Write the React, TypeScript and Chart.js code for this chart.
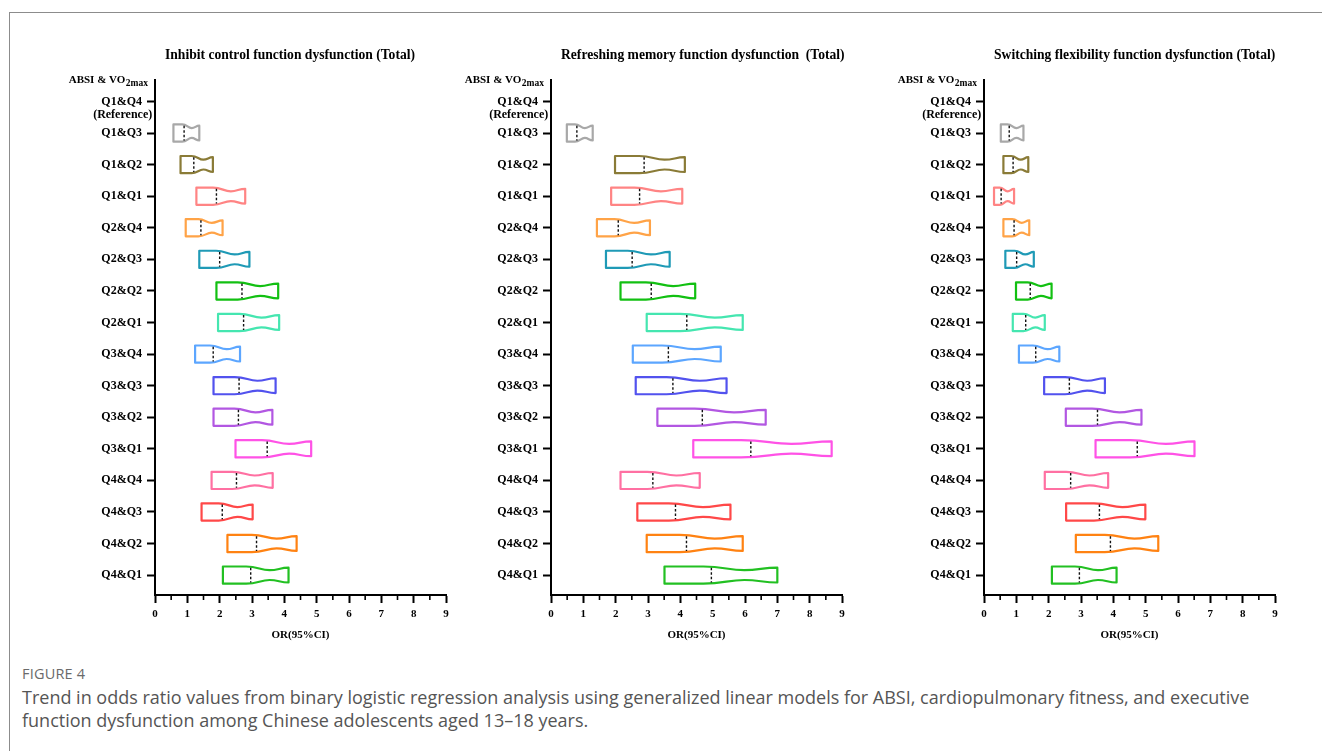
import React, { useEffect, useRef } from 'react';
import { Chart, registerables } from 'chart.js';

Chart.register(...registerables);

// ---------- DATA ----------
const categories = [
  'Q1&Q4', 'Q1&Q3', 'Q1&Q2', 'Q1&Q1',
  'Q2&Q4', 'Q2&Q3', 'Q2&Q2', 'Q2&Q1',
  'Q3&Q4', 'Q3&Q3', 'Q3&Q2', 'Q3&Q1',
  'Q4&Q4', 'Q4&Q3', 'Q4&Q2', 'Q4&Q1',
];
const referenceNote = '(Reference)';
const xTickValues = [0, 1, 2, 3, 4, 5, 6, 7, 8, 9];

const boxColors = [
  null, '#a8a8a8', '#8a7b37', '#ff8484',
  '#ffa347', '#1f9ab6', '#12c012', '#45e6b0',
  '#5ca6ff', '#5252ee', '#b257e2', '#ff52e6',
  '#ff70a2', '#ff4848', '#ff8212', '#22c022',
];

// Inhibit control function dysfunction (Total)
const inhibitLow = [null, 0.57, 0.79, 1.28, 0.95, 1.37, 1.90, 1.95, 1.24, 1.81, 1.81, 2.49, 1.75, 1.44, 2.24, 2.10];
const inhibitOR = [null, 0.90, 1.20, 1.90, 1.42, 2.00, 2.69, 2.74, 1.80, 2.60, 2.58, 3.47, 2.52, 2.08, 3.14, 2.96];
const inhibitHigh = [null, 1.37, 1.79, 2.79, 2.09, 2.92, 3.81, 3.84, 2.63, 3.73, 3.63, 4.83, 3.64, 3.02, 4.38, 4.13];

// Refreshing memory function dysfunction (Total)
const refreshLow = [null, 0.49, 1.98, 1.86, 1.42, 1.70, 2.15, 2.96, 2.53, 2.62, 3.29, 4.40, 2.15, 2.67, 2.96, 3.51];
const refreshOR = [null, 0.80, 2.88, 2.74, 2.08, 2.51, 3.10, 4.20, 3.63, 3.77, 4.68, 6.18, 3.15, 3.85, 4.19, 4.96];
const refreshHigh = [null, 1.29, 4.14, 4.06, 3.06, 3.67, 4.46, 5.93, 5.25, 5.43, 6.64, 8.68, 4.60, 5.55, 5.93, 7.00];

// Switching flexibility function dysfunction (Total)
const switchLow = [null, 0.52, 0.60, 0.31, 0.60, 0.66, 0.99, 0.89, 1.08, 1.86, 2.53, 3.45, 1.88, 2.54, 2.84, 2.10];
const switchOR = [null, 0.78, 0.90, 0.53, 0.93, 1.01, 1.43, 1.29, 1.60, 2.64, 3.51, 4.74, 2.68, 3.57, 3.91, 2.95];
const switchHigh = [null, 1.22, 1.37, 0.93, 1.40, 1.54, 2.09, 1.88, 2.33, 3.74, 4.87, 6.51, 3.84, 4.99, 5.39, 4.10];

const panelTitles = [
  'Inhibit control function dysfunction (Total)',
  'Refreshing memory function dysfunction  (Total)',
  'Switching flexibility function dysfunction (Total)',
];

const figureLabel = 'FIGURE 4';
const captionLine1 = 'Trend in odds ratio values from binary logistic regression analysis using generalized linear models for ABSI, cardiopulmonary fitness, and executive';
const captionLine2 = 'function dysfunction among Chinese adolescents aged 13\u201318 years.';

// ---------- DRAWING ----------
const SERIF = "'Liberation Serif', 'Times New Roman', serif";

function drawNotchedBox(ctx: CanvasRenderingContext2D, xl: number, xm: number, xr: number, yc: number, color: string) {
  const hl = 8.6, hn = 4.9, hr = 7.4;
  const xs = xm - 0.12 * (xr - xm);
  const xn = (xm + xr) / 2;
  ctx.save();
  ctx.strokeStyle = color;
  ctx.lineWidth = 2.2;
  ctx.lineJoin = 'round';
  ctx.beginPath();
  ctx.moveTo(xl, yc - hl);
  ctx.lineTo(xs, yc - hl);
  ctx.bezierCurveTo(xs + (xn - xs) * 0.5, yc - hl, xn - (xn - xs) * 0.4, yc - hn, xn, yc - hn);
  ctx.bezierCurveTo(xn + (xr - xn) * 0.45, yc - hn, xr - (xr - xn) * 0.45, yc - hr, xr, yc - hr);
  ctx.lineTo(xr, yc + hr);
  ctx.bezierCurveTo(xr - (xr - xn) * 0.45, yc + hr, xn + (xr - xn) * 0.45, yc + hn, xn, yc + hn);
  ctx.bezierCurveTo(xn - (xn - xs) * 0.4, yc + hn, xs + (xn - xs) * 0.5, yc + hl, xs, yc + hl);
  ctx.lineTo(xl, yc + hl);
  ctx.closePath();
  ctx.stroke();
  // median dashed line
  ctx.strokeStyle = '#111';
  ctx.lineWidth = 1.4;
  ctx.setLineDash([2.5, 2]);
  ctx.beginPath();
  ctx.moveTo(xm, yc - 7.4);
  ctx.lineTo(xm, yc + 7.4);
  ctx.stroke();
  ctx.restore();
}

const panelPlugin = {
  id: 'panelDecor',
  afterDatasetsDraw(chart: any) {
    const ctx = chart.ctx as CanvasRenderingContext2D;
    const xScale = chart.scales.x;
    const meta = chart.getDatasetMeta(0);
    const ds = chart.data.datasets[0];
    meta.data.forEach((el: any, j: number) => {
      const item = ds.data[j];
      const p = el.getProps(['x', 'y', 'base'], true);
      const xl = Math.min(p.x, p.base);
      const xr = Math.max(p.x, p.base);
      const xm = xScale.getPixelForValue(item.m);
      drawNotchedBox(ctx, xl, xm, xr, p.y, boxColors[item.y] as string);
    });
  },
  afterDraw(chart: any) {
    const ctx = chart.ctx as CanvasRenderingContext2D;
    const area = chart.chartArea;
    const xScale = chart.scales.x;
    const yScale = chart.scales.y;
    const opts = chart.options.plugins.panelDecor;
    ctx.save();
    // minor x ticks
    ctx.strokeStyle = '#000';
    ctx.lineWidth = 1.6;
    for (let k = 0; k < xTickValues.length - 1; k++) {
      const v = (xTickValues[k] + xTickValues[k + 1]) / 2;
      const px = xScale.getPixelForValue(v);
      ctx.beginPath();
      ctx.moveTo(px, area.bottom);
      ctx.lineTo(px, area.bottom + 5);
      ctx.stroke();
    }
    // title
    ctx.fillStyle = '#000';
    ctx.font = `bold 13.6px ${SERIF}`;
    ctx.textAlign = 'left';
    ctx.textBaseline = 'middle';
    ctx.fillText(opts.title, area.left + 10, 15);
    // header ABSI & VO2max
    ctx.textBaseline = 'alphabetic';
    ctx.textAlign = 'right';
    ctx.font = `bold 9.5px ${SERIF}`;
    const subX = area.left - 7;
    const subW = ctx.measureText('2max').width;
    ctx.fillText('2max', subX, area.top + 5.5);
    ctx.font = `bold 11px ${SERIF}`;
    ctx.fillText('ABSI & VO', subX - subW - 0.5, area.top + 3);
    // (Reference) under Q1&Q4, centred on that label
    ctx.font = `bold 12px ${SERIF}`;
    const labelRight = area.left - 8 - 5;
    const w = ctx.measureText(categories[0]).width;
    ctx.textAlign = 'center';
    ctx.textBaseline = 'middle';
    ctx.fillText(referenceNote, labelRight - w / 2 + 1, yScale.getPixelForValue(0) + 13.5);
    ctx.restore();
  },
};

function Panel(props: { left: number; title: string; lows: (number | null)[]; ors: (number | null)[]; highs: (number | null)[] }) {
  const ref = useRef<HTMLCanvasElement>(null);
  useEffect(() => {
    const items = categories
      .map((_, i) => i)
      .filter((i) => props.lows[i] != null)
      .map((i) => ({ y: i, x: [props.lows[i] as number, props.highs[i] as number], m: props.ors[i] as number }));
    const chart = new Chart(ref.current as HTMLCanvasElement, {
      type: 'bar',
      data: {
        datasets: [
          {
            data: items as any,
            backgroundColor: 'rgba(0,0,0,0)',
            borderWidth: 0,
            barThickness: 17,
          },
        ],
      },
      options: {
        indexAxis: 'y',
        animation: false,
        responsive: false,
        devicePixelRatio: 1,
        events: [],
        layout: { padding: { left: 0, right: 14, top: 40, bottom: 10 } },
        plugins: {
          legend: { display: false },
          tooltip: { enabled: false },
          title: { display: false },
          panelDecor: { title: props.title },
        } as any,
        scales: {
          x: {
            type: 'linear',
            min: 0,
            max: 9,
            offset: false,
            afterBuildTicks: (s: any) => {
              s.ticks = xTickValues.map((v) => ({ value: v }));
            },
            ticks: {
              font: { family: SERIF, size: 11, weight: 'bold' },
              color: '#000',
              padding: 5,
              maxRotation: 0,
              autoSkip: false,
            },
            grid: { offset: false, drawOnChartArea: false, drawTicks: true, tickLength: 8, tickWidth: 2, tickColor: '#000' },
            border: { display: true, color: '#000', width: 2 },
            title: {
              display: true,
              text: 'OR(95%CI)',
              font: { family: SERIF, size: 11, weight: 'bold' },
              color: '#000',
              padding: { top: 0, bottom: -1.5 },
            },
            afterFit: (s: any) => {
              s.height = 45;
            },
          },
          y: {
            type: 'linear',
            reverse: true,
            offset: false,
            min: -0.68,
            max: 15.63,
            afterBuildTicks: (s: any) => {
              s.ticks = categories.map((_, i) => ({ value: i }));
            },
            ticks: {
              callback: (v: any) => categories[v as number] ?? '',
              font: { family: SERIF, size: 12, weight: 'bold' },
              color: '#000',
              padding: 5,
              autoSkip: false,
            },
            grid: { offset: false, drawOnChartArea: false, drawTicks: true, tickLength: 8, tickWidth: 2, tickColor: '#000' },
            border: { display: true, color: '#000', width: 2 },
            afterFit: (s: any) => {
              s.width = 95;
            },
          },
        },
      } as any,
      plugins: [panelPlugin],
    });
    return () => chart.destroy();
  }, []);
  return (
    <canvas
      ref={ref}
      width={400}
      height={610}
      style={{ position: 'absolute', left: props.left, top: 40, width: 400, height: 610 }}
    />
  );
}

export default function App() {
  return (
    <div style={{ position: 'fixed', left: 0, top: 0, width: 1322, height: 751, background: '#fff', overflow: 'hidden' }}>
      <div
        style={{
          position: 'absolute',
          left: 9,
          top: 12,
          width: 1322,
          height: 760,
          borderTop: '1px solid #8c8c8c',
          borderLeft: '1px solid #8c8c8c',
        }}
      />
      <Panel left={60} title={panelTitles[0]} lows={inhibitLow} ors={inhibitOR} highs={inhibitHigh} />
      <Panel left={456} title={panelTitles[1]} lows={refreshLow} ors={refreshOR} highs={refreshHigh} />
      <Panel left={889} title={panelTitles[2]} lows={switchLow} ors={switchOR} highs={switchHigh} />
      <div
        style={{
          position: 'absolute',
          left: 22,
          top: 665,
          fontFamily: "'Open Sans', sans-serif",
          fontSize: 14.5,
          lineHeight: '18px',
          color: '#6a6a6a',
          letterSpacing: 0.2,
        }}
      >
        {figureLabel}
      </div>
      <div
        style={{
          position: 'absolute',
          left: 22,
          top: 686,
          fontFamily: "'Open Sans', sans-serif",
          fontSize: 18,
          lineHeight: '23px',
          color: '#555',
          whiteSpace: 'nowrap',
        }}
      >
        <div>{captionLine1}</div>
        <div>{captionLine2}</div>
      </div>
    </div>
  );
}
